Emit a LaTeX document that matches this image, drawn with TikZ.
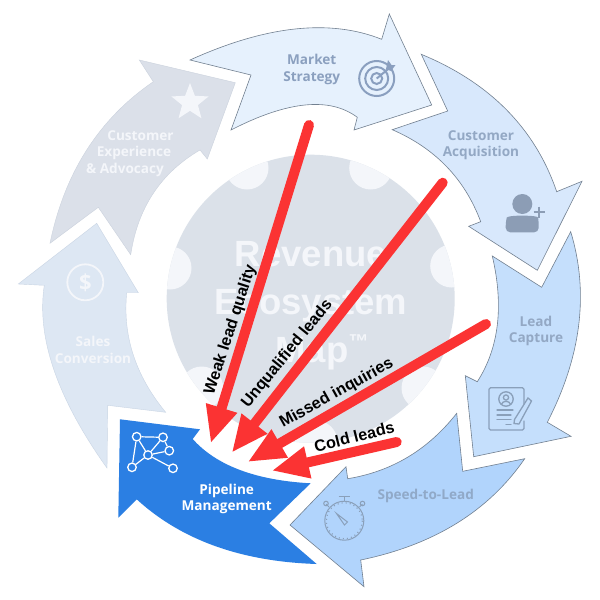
\documentclass[tikz,border=0pt]{standalone}
\usepackage{fontspec}
\setmainfont{Open Sans}
\newfontfamily\arialf{Liberation Sans}
\usetikzlibrary{calc,arrows.meta,shapes.geometric}
\newcommand\thru[3]{.. controls ($1.3333*(#2)-0.3333*(#3)$) and ($1.3333*(#2)-0.3333*(#1)$) .. (#3)}
\definecolor{txtA}{HTML}{8BA0BF}
\definecolor{txtB}{HTML}{93A8C4}
\definecolor{txtC}{HTML}{90A9C8}
\definecolor{icA}{HTML}{8A9FBF}
\definecolor{icB}{HTML}{8C9DB5}
\definecolor{icC}{HTML}{8AA0BA}
\definecolor{soft}{HTML}{F4F6FA}
\definecolor{redA}{HTML}{FB3333}
\definecolor{edgeC}{HTML}{728090}
\definecolor{hubC}{HTML}{DBE1E9}
\definecolor{segA}{HTML}{E6F1FD}
\definecolor{segB}{HTML}{D8E8FC}
\definecolor{segC}{HTML}{C5DFFC}
\definecolor{segD}{HTML}{B1D4FC}
\definecolor{segE}{HTML}{2B7FE3}
\definecolor{segF}{HTML}{DDE7F3}
\definecolor{segG}{HTML}{DBE0E9}
\definecolor{edgeF}{HTML}{C9D5E4}
\definecolor{edgeG}{HTML}{CBD2DD}
\tikzset{
  seg/.style={draw=edgeC,line width=0.6pt,line join=miter},
  fadeseg/.style={draw=#1,line width=0.4pt},
  lab/.style={font=\fontsize{13.6}{16.4}\selectfont\bfseries,align=center,inner sep=0pt},
  redarrow/.style={draw=redA,fill=redA,line width=10pt,line cap=round,-{Triangle[length=37pt,width=30pt,sep=0pt]}},
  cause/.style={font=\arialf\fontsize{16.2}{16.2}\selectfont\bfseries,text=black,inner sep=0pt},
  bump/.style={circle,fill=#1,minimum size=43pt,inner sep=0pt},
  netnode/.style={circle,draw=white,line width=1.3pt,fill=none,minimum size=8.5pt,inner sep=0pt},
  netedge/.style={draw=white,line width=1.2pt}
}
\begin{document}
\begin{tikzpicture}[x=1pt,y=-1pt]
\useasboundingbox (0,0) rectangle (600,600);
\fill[white] (0,0) rectangle (600,600);

% central disc
\coordinate (hub) at (310.7,298.7);
\fill[hubC] (hub) circle (144);
\begin{scope}
\clip (hub) circle (144);
\node[bump=soft] (b1) at (247,168) {};
\node[bump=soft] (b2) at (370.7,168) {};
\node[bump=soft] (b3) at (170,268) {};
\node[bump=soft] (b4) at (451.7,266) {};
\node[bump=soft] (b5) at (201.7,388) {};
\node[bump=soft] (b6) at (423,388) {};
\node[bump=soft] (b7) at (316,442) {};
\end{scope}
\node[font=\arialf\fontsize{36.5}{48}\selectfont\bfseries,text=soft,align=center,inner sep=0pt] (title) at (311,305.5) {Revenue\\Ecosystem\\\hspace*{22pt}Map\raisebox{14pt}{\fontsize{20}{20}\selectfont ™}};

% ring segments
\filldraw[seg,fill=segA] (190,60) \thru{190,60}{295,29}{381.7,39.3} -- (389.3,14) -- (431.7,105) -- (354,130) -- (357.3,117.3) \thru{357.3,117.3}{305,105}{231,130} -- (251,75) -- cycle;
\filldraw[seg,fill=segB] (421.3,54.3) \thru{421.3,54.3}{506.7,110}{556.7,191.7} -- (582,181.3) -- (537.3,270.3) -- (468.7,226.3) -- (480.7,221.7) \thru{480.7,221.7}{446.7,166.7}{392.3,129.7} -- (447.7,111) -- cycle;
\filldraw[seg,fill=segC] (492.3,256) -- (541.7,287.3) -- (570.7,231.7) \thru{570.7,231.7}{578.7,325}{547.3,422.3} -- (571,436.3) -- (473.7,456.7) -- (465.3,375.7) -- (477.3,381.7) \thru{477.3,381.7}{497.3,325}{492.3,256} -- cycle;
\filldraw[seg,fill=segD] (524.7,458.7) -- (462.7,471.3) -- (456.7,413.3) \thru{456.7,413.3}{408,457}{347.7,478.7} -- (346,466.7) -- (290,525) -- (364,586.7) -- (360.7,560) \thru{360.7,560}{456.7,523.3}{524.7,458.7} -- cycle;
\fill[segE] (120,419.3) -- (200,429.3) -- (192.7,439) \thru{192.7,439}{240,470}{310.7,483.3} -- (269.3,523.3) -- (316.7,564) \thru{316.7,564}{215,546}{136.7,499.3} -- (118.3,517.7) -- cycle;
\filldraw[fadeseg=edgeF,fill=segF] (96.7,223.3) -- (138.3,292.7) -- (126.7,292.7) \thru{126.7,292.7}{133.3,355}{165.7,412.3} -- (107.7,405.3) -- (107,468) \thru{107,468}{54,370}{44.3,285.3} -- (18.3,284) -- cycle;
\filldraw[fadeseg=edgeG,fill=segG] (139.3,60) -- (235.3,82.7) -- (207.3,159) -- (200,150) \thru{200,150}{153.3,193.3}{130.7,254.7} -- (98.3,207.3) -- (50,243.3) \thru{50,243.3}{86.7,150}{153.3,81.7} -- cycle;

% texts on segments
\node[lab,text=txtA] (t1) at (311.7,69.5) {Market\\Strategy};
\node[lab,text=txtB] (t2) at (481,145) {Customer\\Acquisition};
\node[lab,text=txtB] (t3) at (536,331) {Lead\\Capture};
\node[lab,text=txtC] (t4) at (425.7,496) {Speed-to-Lead};
\node[lab,text=white] (t5) at (226.7,499) {Pipeline\\Management};
\node[lab,text=soft] (t6) at (93,350) {Sales\\Conversion};
\node[lab,text=soft] (t7) at (134,153.5) {\hspace*{13pt}Customer\\Experience\\\&~Advocacy\hspace*{18pt}};

% target icon
\begin{scope}[draw=icA,line width=2pt,fill=none]
\draw (376.7,78.5) circle (17.5);
\draw (376.7,78.5) circle (11.5);
\draw (376.7,78.5) circle (5.5);
\draw (376.7,78.5) -- (390,67.5);
\end{scope}
\fill[icA] (386,69) -- (388,60) -- (391.5,65) -- (395.5,65) -- (391,71) -- cycle;

% star
\node[star,star points=5,star point ratio=2.35,fill=soft,minimum size=39pt,inner sep=0pt] (star) at (190,102.5) {};

% user-plus icon
\fill[icB] (522.3,204) circle (10);
\fill[icB,rounded corners=4.5pt] (505.7,232.3) -- (505.7,222) .. controls (507,216.5) and (514,215.7) .. (522,215.7) .. controls (531,215.7) and (538,216.5) .. (538.7,222) -- (538.7,232.3) -- cycle;
\draw[icB,line width=2.4pt] (533.7,212) -- (544.7,212) (539.2,206.5) -- (539.2,217.5);

% document icon
\begin{scope}[draw=icC,line width=1.3pt,line cap=round]
\draw[rounded corners=1.5pt] (524,404) -- (524,387.7) -- (489,387.7) -- (489,430) -- (524,430) -- (524,421);
\draw (506,399) circle (7.2);
\draw (506,397.5) circle (2.6);
\draw (501.5,404) .. controls (503,400.5) and (509,400.5) .. (510.5,404);
\draw (497,410) -- (513,410) (497,415) -- (511,415) (497,419.5) -- (511,419.5) (506,424.5) -- (511,424.5);
\draw (528,398) -- (531.5,401) -- (519,424) -- (514,423.5) -- (514.5,419.5) -- cycle;
\end{scope}

% stopwatch icon
\begin{scope}[draw=icC,line width=1pt]
\draw (344.3,520.7) circle (19.5);
\draw[line width=1.2pt,dash pattern=on 1pt off 3.1pt] (344.3,520.7) circle (18);
\draw (338.5,496.5) -- (350,496.5) (344.3,497) -- (344.3,501);
\draw (329,507) -- (326,504) (359.5,507) -- (362.5,504);
\draw (326,503.5) circle (2.3) (362.5,503.5) circle (2.3);
\draw (336.5,513.5) -- (347.5,522) -- (344.5,525) -- cycle;
\end{scope}

% network icon
\node[netnode] (n1) at (136.7,436.7) {};
\node[netnode] (n2) at (163,437.3) {};
\node[netnode] (n3) at (169.3,450.7) {};
\node[netnode] (n4) at (148,455) {};
\node[netnode] (n5) at (132,467.3) {};
\node[netnode] (n6) at (173,468.3) {};
\draw[netedge] (n1)--(n2) (n1)--(n4) (n1)--(n5) (n2)--(n4) (n2)--(n3) (n4)--(n3) (n4)--(n5) (n4)--(n6);

% dollar icon
\node[circle,draw=soft,line width=1.8pt,minimum size=36pt,inner sep=0pt,text=soft,font=\fontsize{22}{22}\selectfont\bfseries] (dollar) at (85.3,282.3) {\$};

% red arrows
\coordinate (a1s) at (309,125);
\coordinate (a1e) at (210.7,443.3);
\coordinate (a2s) at (442.7,182.7);
\coordinate (a2e) at (231.7,452.7);
\coordinate (a3s) at (486,324);
\coordinate (a3e) at (247.7,462);
\coordinate (a4s) at (396.7,442);
\coordinate (a4e) at (271.7,470.7);
\draw[redarrow] (a1s) -- (a1e);
\draw[redarrow] (a2s) -- (a2e);
\draw[redarrow] (a3s) -- (a3e);
\draw[redarrow] (a4s) -- (a4e);

\node[cause,rotate=72] (c1) at (230.7,330) {Weak lead quality};
\node[cause,rotate=51] (c2) at (287.3,354) {Unqualified leads};
\node[cause,rotate=29] (c3) at (336.7,393.3) {Missed inquiries};
\node[cause,rotate=14] (c4) at (354.3,436.7) {Cold leads};
\end{tikzpicture}
\end{document}
